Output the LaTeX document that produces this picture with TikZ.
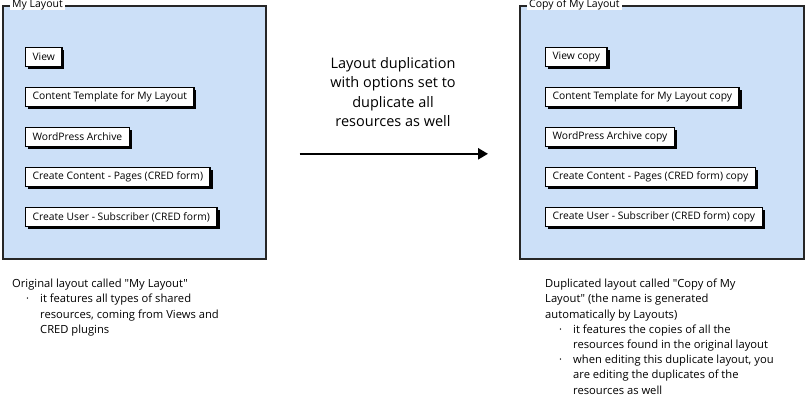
\documentclass[tikz,border=0pt]{standalone}
\usepackage{fontspec}
\setmainfont{Open Sans}[Ligatures=TeXOff]
\usetikzlibrary{arrows.meta,positioning,shadows}
\definecolor{panelblue}{RGB}{204,224,248}

\begin{document}
\begin{tikzpicture}[x=1pt, y=-1pt,
    panel/.style={draw=black!85, line width=1.6pt, fill=panelblue, minimum width=#1, minimum height=253pt, anchor=north west, inner sep=0pt},
    ptitle/.style={fill=white, inner xsep=2pt, inner ysep=0pt, anchor=west, font=\fontsize{10.5}{12}\selectfont},
    res/.style={draw=black, line width=1.2pt, fill=white, anchor=west, minimum height=19pt, inner xsep=7pt, inner ysep=0pt, font=\fontsize{10.3}{12}\selectfont, drop shadow={shadow xshift=2.5pt, shadow yshift=-2.5pt, fill=black, opacity=1}},
    note/.style={align=left, inner sep=0pt, anchor=north west, font=\fontsize{11.2}{15.2}\selectfont},
    flow/.style={-{Triangle[length=10pt, width=11pt]}, line width=2.5pt}
]
\useasboundingbox (0,0) rectangle (805,408);

% original layout
\node[panel=263pt] (mylayout) at (2,5) {};
\node[ptitle] (mytitle) at (10,5) {My Layout};
\node[res] (view) at (25,57) {View};
\node[res] (tmpl) at (25,97) {Content Template for My Layout};
\node[res] (archive) at (25,137) {WordPress Archive};
\node[res] (pages) at (25,177) {Create Content - Pages (CRED form)};
\node[res] (user) at (25,217) {Create User - Subscriber (CRED form)};

% duplicated layout
\node[panel=284pt] (copylayout) at (519,5) {};
\node[ptitle] (copytitle) at (527,5) {Copy of My Layout};
\node[res] (viewcp) at (545,57) {View copy};
\node[res] (tmplcp) at (545,97) {Content Template for My Layout copy};
\node[res] (archivecp) at (545,137) {WordPress Archive copy};
\node[res] (pagescp) at (545,177) {Create Content - Pages (CRED form) copy};
\node[res] (usercp) at (545,217) {Create User - Subscriber (CRED form) copy};

% duplication step
\node[align=center, font=\fontsize{14.5}{19.5}\selectfont] (dupnote) at (393,92) {Layout duplication\\with options set to\\duplicate all\\resources as well};
\draw[flow, shorten <=33pt, shorten >=31pt] ([yshift=-21.5pt]mylayout.east) -- ([yshift=-21.5pt]copylayout.west);

% captions
\node[note] (orignote) at (12,279) {Original layout called "My Layout"\\
  \hspace{14pt}\makebox[14pt][l]{·}it features all types of shared\\
  \hspace{28pt}resources, coming from Views and\\
  \hspace{28pt}CRED plugins};

\node[note] (copynote) at (545,279) {Duplicated layout called "Copy of My\\
  Layout" (the name is generated\\
  automatically by Layouts)\\
  \hspace{14pt}\makebox[14pt][l]{·}it features the copies of all the\\
  \hspace{28pt}resources found in the original layout\\
  \hspace{14pt}\makebox[14pt][l]{·}when editing this duplicate layout, you\\
  \hspace{28pt}are editing the duplicates of the\\
  \hspace{28pt}resources as well};
\end{tikzpicture}
\end{document}
